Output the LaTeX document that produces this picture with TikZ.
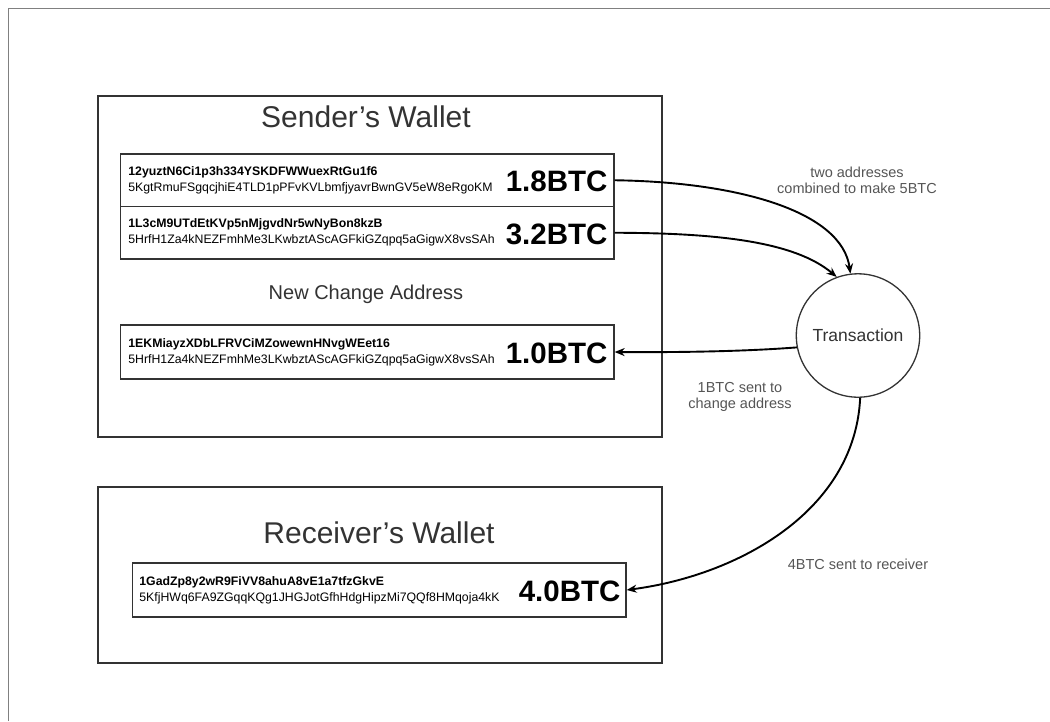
\documentclass[tikz,border=0pt]{standalone}
\usepackage{fontspec}
\setmainfont{Liberation Sans}
\usetikzlibrary{arrows.meta}
\definecolor{boxline}{HTML}{333333}
\definecolor{titlegray}{HTML}{333333}
\definecolor{labelgray}{HTML}{555555}
\begin{document}
\begin{tikzpicture}[x=1pt,y=-1pt,
  wallet/.style={draw=boxline,line width=1.2pt,rectangle,inner sep=0pt,minimum width=564pt},
  addrbox/.style={draw=boxline,line width=1.2pt,rectangle,inner sep=0pt,minimum width=493.3pt},
  addrtext/.style={anchor=west,inner sep=0pt,align=left,font=\fontsize{12.3}{16}\selectfont},
  btc/.style={anchor=east,inner sep=0pt,font=\fontsize{29.5}{32}\selectfont\bfseries},
  title/.style={inner sep=0pt,text=titlegray,font=\fontsize{30}{36}\selectfont},
  lbl/.style={inner sep=0pt,align=center,text=labelgray,font=\fontsize{14.5}{16.5}\selectfont},
  flow/.style={line width=1.9pt,-{Stealth[length=10pt,width=8pt]}}
]
\useasboundingbox (0,0) rectangle (1050,721);
\fill[white] (0,0) rectangle (1050,721);
% page frame
\draw[line width=1pt,color=gray] (8,721) -- (8,8) -- (1050,8);

% sender wallet
\node[wallet,minimum height=341pt] (sender) at (380,266.5) {};
\node[title] (sendertitle) at (366,117) {Sender’s Wallet};

\node[addrbox,minimum height=52.5pt] (a1) at (367.4,180.25) {};
\node[addrbox,minimum height=52.5pt] (a2) at (367.4,232.75) {};
\node[addrtext] (a1t) at ([xshift=8pt]a1.west) {\textbf{12yuztN6Ci1p3h334YSKDFWWuexRtGu1f6}\\5KgtRmuFSgqcjhiE4TLD1pPFvKVLbmfjyavrBwnGV5eW8eRgoKM};
\node[btc] (a1b) at ([xshift=-7pt,yshift=-1.5pt]a1.east) {1.8BTC};
\node[addrtext] (a2t) at ([xshift=8pt]a2.west) {\textbf{1L3cM9UTdEtKVp5nMjgvdNr5wNyBon8kzB}\\5HrfH1Za4kNEZFmhMe3LKwbztAScAGFkiGZqpq5aGigwX8vsSAh};
\node[btc] (a2b) at ([xshift=-7pt,yshift=-1.5pt]a2.east) {3.2BTC};

\node[inner sep=0pt,text=titlegray,font=\fontsize{20}{24}\selectfont] (newchange) at (366,294) {New Change Address};

\node[addrbox,minimum height=54pt] (a3) at (367.4,352) {};
\node[addrtext] (a3t) at ([xshift=8pt]a3.west) {\textbf{1EKMiayzXDbLFRVCiMZowewnHNvgWEet16}\\5HrfH1Za4kNEZFmhMe3LKwbztAScAGFkiGZqpq5aGigwX8vsSAh};
\node[btc] (a3b) at ([xshift=-7pt,yshift=-1.5pt]a3.east) {1.0BTC};

% receiver wallet
\node[wallet,minimum height=176pt] (receiver) at (380,575) {};
\node[title] (receivertitle) at (379,533) {Receiver’s Wallet};
\node[addrbox,minimum height=54pt] (a4) at (379.4,590) {};
\node[addrtext] (a4t) at ([xshift=7pt]a4.west) {\textbf{1GadZp8y2wR9FiVV8ahuA8vE1a7tfzGkvE}\\5KfjHWq6FA9ZGqqKQg1JHGJotGfhHdgHipzMi7QQf8HMqoja4kK};
\node[btc] (a4b) at ([xshift=-6pt,yshift=-1.5pt]a4.east) {4.0BTC};

% transaction
\node[circle,draw=boxline,line width=1.3pt,minimum size=123.4pt,inner sep=0pt,
      font=\fontsize{17.5}{20}\selectfont,text=titlegray] (trans) at (858,335.5) {Transaction};

% connectors
\draw[flow] (a1.east) .. controls (740,182) and (842,212) .. (trans.97);
\draw[flow] (a2.east) .. controls (720,233) and (795,242) .. (trans.110);
\draw[flow] (trans.191) .. controls (750,351) and (690,352.5) .. (a3.east);
\draw[flow] (trans.272) .. controls (855,510) and (740,575) .. (a4.east);

% labels
\node[lbl] (l1) at (857,180.5) {two addresses\\combined to make 5BTC};
\node[lbl] (l2) at (740,397) {1BTC sent to\\change address};
\node[lbl] (l3) at (858,564.6) {4BTC sent to receiver};
\end{tikzpicture}
\end{document}
